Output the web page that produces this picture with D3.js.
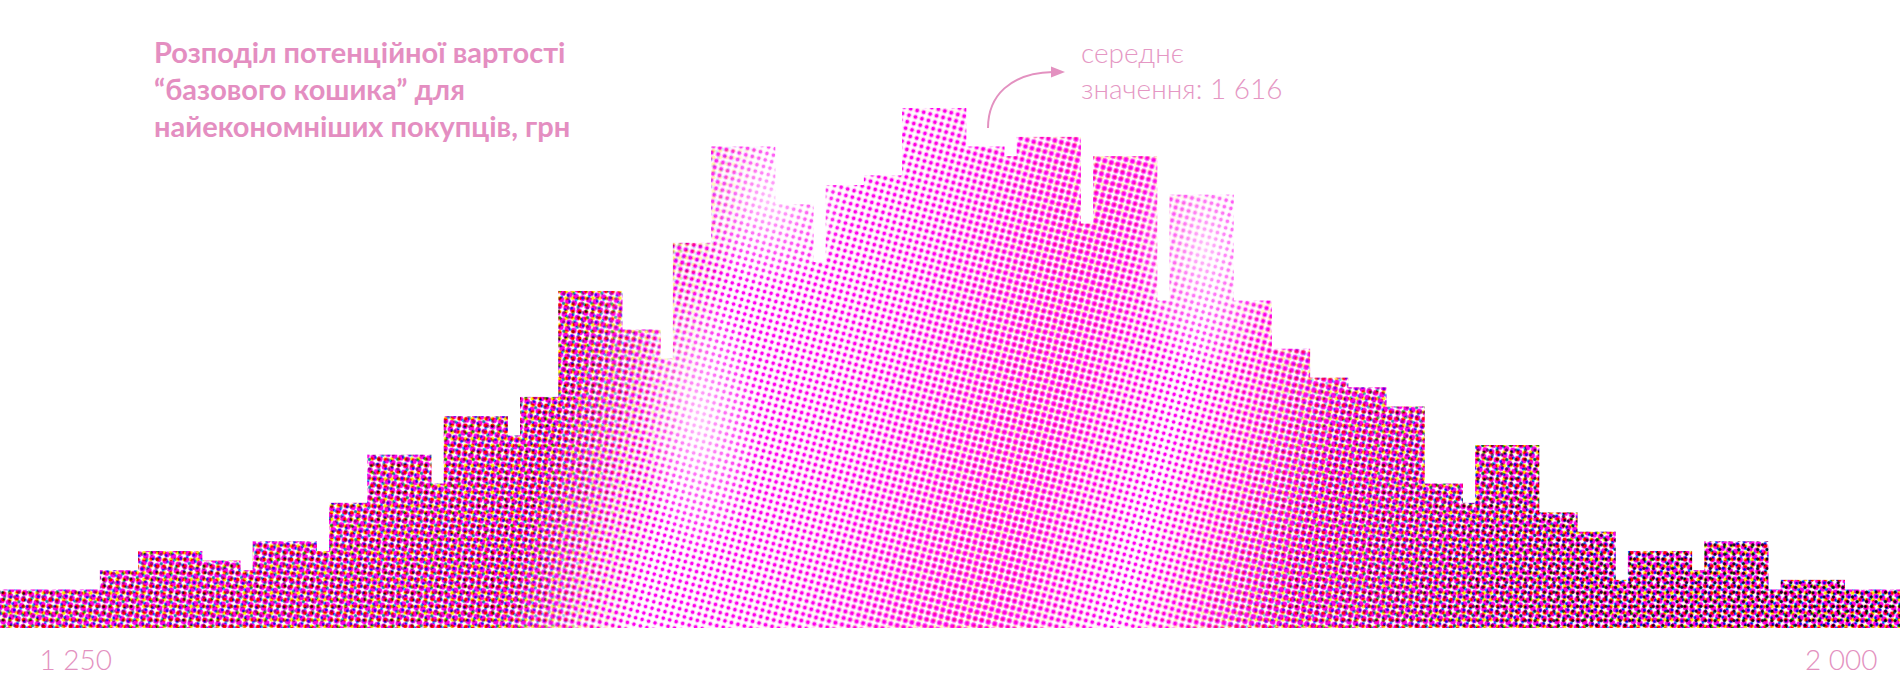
<!DOCTYPE html>
<html><head><meta charset="utf-8">
<script src="https://cdn.jsdelivr.net/npm/d3@7"></script>
<style>
html,body{margin:0;padding:0;background:#fff;}
svg{display:block;}
</style></head><body>
<script>
// ---- data ----
const binEdges = [1250,1290,1305,1330,1345,1350,1375,1380,1395,1420,1425,1450,1455,1470,1495,1510,1515,1530,1555,1570,1575,1590,1605,1630,1645,1650,1675,1680,1705,1710,1735,1750,1765,1780,1795,1810,1825,1830,1855,1870,1885,1890,1915,1920,1945,1950,1975,2000];
const counts = [4,6,8,7,6,9,8,13,18,15,22,20,24,35,31,28,40,50,44,38,46,47,54,50,49,51,42,49,34,45,34,29,26,25,23,15,13,19,12,10,5,8,6,9,4,5,4];
const xTicks = [1250, 2000];
const xTickLabels = ["1 250", "2 000"];
const titleLines = ["Розподіл потенційної вартості", "“базового кошика” для", "найекономніших покупців, грн"];
const meanValue = 1616;
const noteLines = ["середнє", "значення: 1 616"];

// ---- setup ----
const W = 1900, H = 686;
const svg = d3.select("body").append("svg").attr("width", W).attr("height", H);
const x = d3.scaleLinear().domain([1250, 2000]).range([-2, 1908]);
const y = d3.scaleLinear().domain([0, 60]).range([628, 628 - 60 * 9.63]);
const bars = counts.map((c, i) => ({x0: binEdges[i], x1: binEdges[i + 1], c}));
const defs = svg.append("defs");

defs.append("clipPath").attr("id", "bars").selectAll("rect").data(bars).join("rect")
  .attr("x", d => x(d.x0)).attr("width", d => x(d.x1) - x(d.x0) + 0.6)
  .attr("y", d => y(d.c)).attr("height", d => y(0) - y(d.c));

// halftone dot screens
function dotPattern(id, size, r, color, angle) {
  const p = defs.append("pattern").attr("id", id).attr("patternUnits", "userSpaceOnUse")
    .attr("width", size).attr("height", size).attr("patternTransform", `rotate(${angle})`);
  p.append("circle").attr("cx", size / 2).attr("cy", size / 2).attr("r", r).attr("fill", color);
}
dotPattern("magS", 6.7, 1.8, "#ff00f0", 15);
dotPattern("magL", 6.7, 2.8, "#ff00f0", 15);
dotPattern("yel", 6.7, 2.0, "#fff000", 0);
dotPattern("cya", 6.7, 1.5, "#00c8ff", 75);
dotPattern("blk", 6.7, 1.6, "#101018", 45);

// slanted gradient masks (profile given by x position at mid height)
const GX = 1900, GY = 543;
const off = xp => Math.max(0, Math.min(1, (GX * xp + GY * 400) / (GX * GX + GY * GY)));
function gradMask(id, stops) {
  const g = defs.append("linearGradient").attr("id", id + "g").attr("gradientUnits", "userSpaceOnUse")
    .attr("x1", 0).attr("y1", 0).attr("x2", GX).attr("y2", GY);
  stops.forEach(([xp, v]) => {
    const c = Math.round(v * 255);
    g.append("stop").attr("offset", off(xp)).attr("stop-color", `rgb(${c},${c},${c})`);
  });
  defs.append("mask").attr("id", id).attr("maskUnits", "userSpaceOnUse")
    .attr("x", 0).attr("y", 0).attr("width", W).attr("height", H)
    .append("rect").attr("width", W).attr("height", H).attr("fill", `url(#${id}g)`);
}
gradMask("mYel", [[0,1],[560,1],[640,0.4],[700,0],[900,0.08],[1030,0.3],[1100,0.18],[1180,0],[1260,0.3],[1350,0.8],[1500,1],[1900,1]]);
gradMask("mCya", [[0,0.8],[560,0.8],[640,0.2],[700,0],[1250,0],[1350,0.6],[1500,0.9],[1900,1]]);
gradMask("mMag", [[0,1],[560,1],[640,0.35],[700,0.05],[850,0.2],[1000,0.6],[1060,0.65],[1120,0.35],[1180,0.05],[1260,0.5],[1350,1],[1900,1]]);
gradMask("mBlk", [[0,0.4],[560,0.4],[650,0],[1300,0],[1450,0.5],[1650,0.9],[1900,1]]);

const g = svg.append("g").attr("clip-path", "url(#bars)").style("isolation", "isolate");
g.append("rect").attr("width", W).attr("height", H).attr("fill", "#fff");
function layer(pat, mask) {
  const r = g.append("rect").attr("width", W).attr("height", H).attr("fill", `url(#${pat})`)
    .style("mix-blend-mode", "multiply");
  if (mask) r.attr("mask", `url(#${mask})`);
}
layer("magS", null);
layer("magL", "mMag");
layer("yel", "mYel");
layer("cya", "mCya");
layer("blk", "mBlk");

// light haze spots
const rg = defs.append("radialGradient").attr("id", "fog");
rg.append("stop").attr("offset", 0).attr("stop-color", "#fff").attr("stop-opacity", 0.75);
rg.append("stop").attr("offset", 1).attr("stop-color", "#fff").attr("stop-opacity", 0);
[[770, 200, 80, 90], [1205, 250, 70, 130], [700, 420, 60, 140]].forEach(([cx, cy, rx, ry]) => {
  g.append("ellipse").attr("cx", cx).attr("cy", cy).attr("rx", rx).attr("ry", ry).attr("fill", "url(#fog)");
});

// ---- axis labels ----
const axis = svg.append("g").attr("transform", `translate(0,${y(0)})`)
  .call(d3.axisBottom(x).tickValues(xTicks).tickFormat((d, i) => xTickLabels[i]).tickSize(0));
axis.select(".domain").remove();
axis.selectAll("text")
  .attr("y", 42).attr("dy", 0)
  .attr("fill", "#e391c0")
  .style("font-family", "Lato, 'Open Sans', sans-serif").style("font-weight", 300).style("font-size", "28px")
  .attr("text-anchor", (d, i) => i === 0 ? "start" : "end")
  .attr("dx", (d, i) => i === 0 ? 41 : -31);

// ---- title ----
svg.append("g").selectAll("text").data(titleLines).join("text")
  .attr("x", 154).attr("y", (d, i) => 63 + i * 37)
  .attr("fill", "#e48ec1")
  .style("font-family", "Lato, 'Open Sans', sans-serif").style("font-weight", 700).style("font-size", "29px")
  .text(d => d);

// ---- mean annotation ----
svg.append("path")
  .attr("d", `M${988},128 C${988},96 ${1010},73 ${1053},72`)
  .attr("fill", "none").attr("stroke", "#e391c0").attr("stroke-width", 2);
svg.append("path").attr("d", "M1065,72 L1051,66.5 L1051,77.5 Z").attr("fill", "#e391c0");
svg.append("g").selectAll("text").data(noteLines).join("text")
  .attr("x", 1081).attr("y", (d, i) => 63 + i * 36)
  .attr("fill", "#e597c4")
  .style("font-family", "Lato, 'Open Sans', sans-serif").style("font-weight", 300).style("font-size", "28px")
  .text(d => d);
</script>
</body></html>
